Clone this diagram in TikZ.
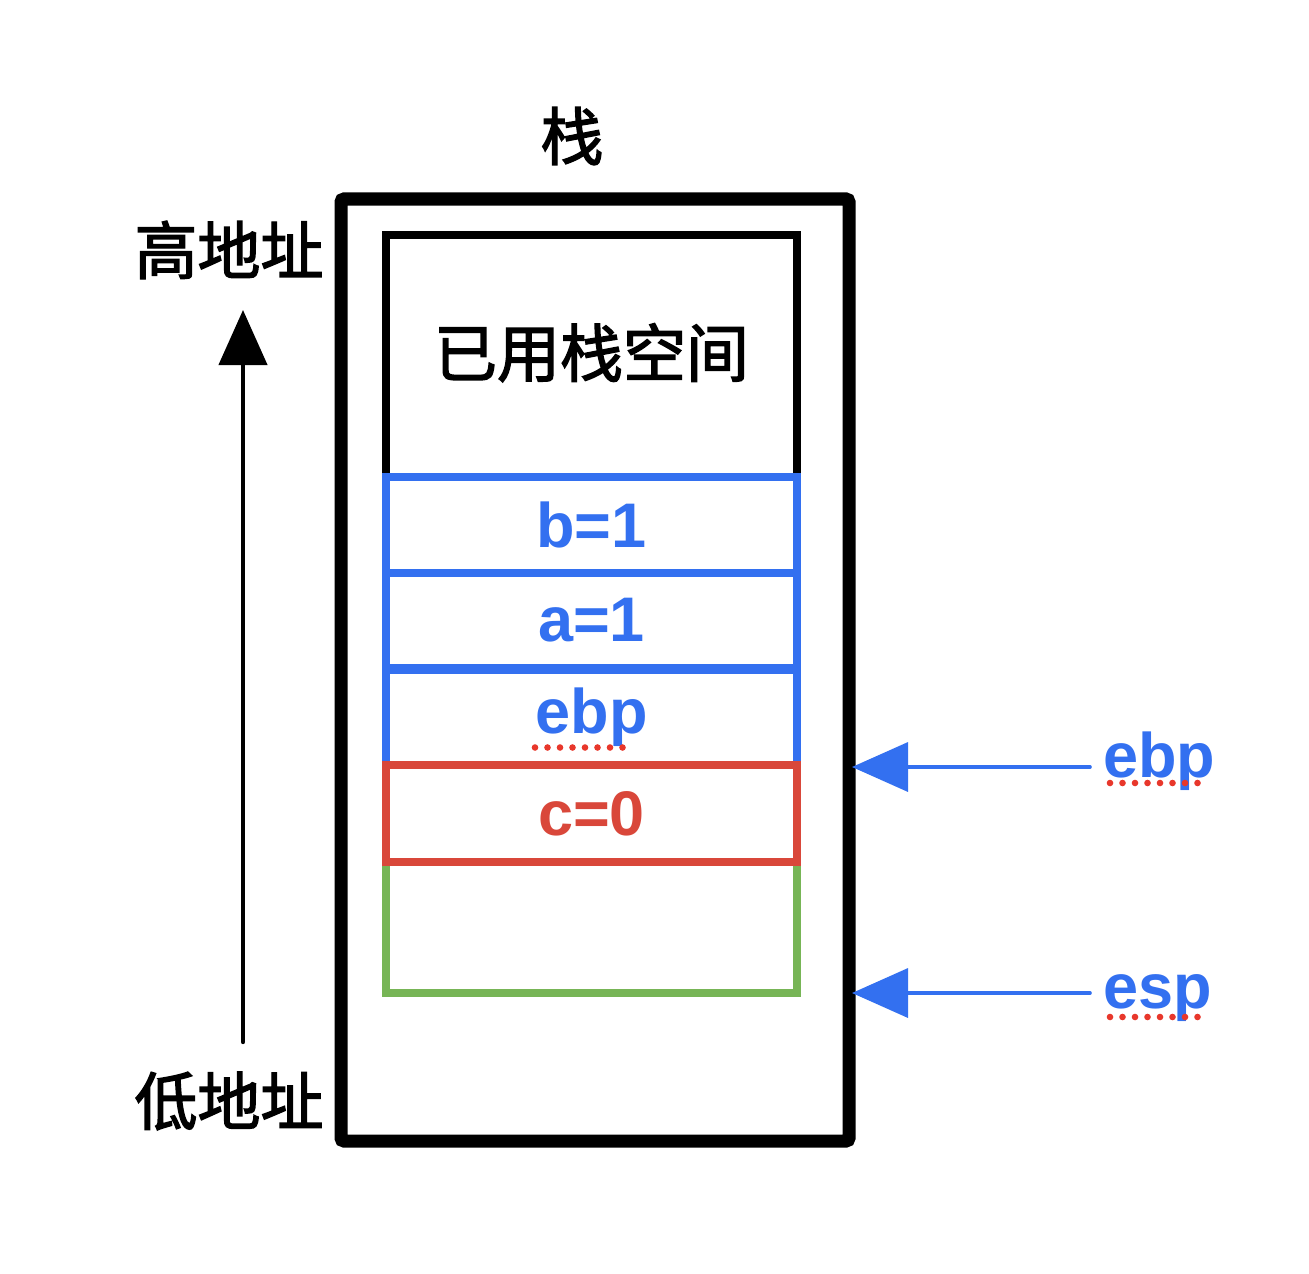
\documentclass[tikz,border=0pt]{standalone}
\usepackage{fontspec}
\setmainfont{Liberation Sans}
\newfontfamily\cjk{Noto Sans CJK SC}[FakeBold=2.2]
\usetikzlibrary{arrows.meta}
\definecolor{regblue}{HTML}{3370F0}
\definecolor{regred}{HTML}{D9473A}
\definecolor{reggreen}{HTML}{77B556}
\definecolor{spellred}{HTML}{E8372B}

\begin{document}
\begin{tikzpicture}[
    x=0.5pt, y=-0.5pt,
    frame/.style={%
      draw,
      line width=6.5pt,
      rounded corners=1.5pt,
      inner sep=0pt,
      outer sep=1.5pt,
      minimum width=254pt,
      minimum height=471pt,
    },
    cell/.style={%
      draw=#1,
      text=#1,
      line width=4.3pt,
      inner sep=0pt,
      minimum width=205.5pt,
      font=\bfseries\fontsize{31.5}{36}\selectfont,
    },
    cjktext/.style={font=\cjk\fontsize{31.5}{36}\selectfont},
    reg/.style={%
      anchor=base west,
      inner sep=0pt,
      text=regblue,
      font=\bfseries\fontsize{31.5}{36}\selectfont,
    },
    ptr/.style={draw=regblue, line width=1.8pt, line cap=round, -{Triangle[length=28pt,width=24.5pt]}},
    addr/.style={line width=2.2pt, line cap=round, -{Triangle[length=27.5pt,width=24pt]}},
    typo/.style={draw=spellred, line width=3.3pt, line cap=round, dash pattern=on 0pt off 6.25pt},
  ]

    \useasboundingbox (0,0) rectangle (1309,1273);

    \node [cjktext] (title) at (572,136) {栈};
    \node [frame] (stack) at (595,670) {};
    \node [cell=black, minimum height=121pt, text depth=6pt, cjktext] (used) at (591.5,356) {已用栈空间};
    \node [cell=reggreen, minimum height=65.5pt] (free) at (591.5,927.5) {};
    \node [cell=regblue, minimum height=47.5pt] (ebp) at (591.5,717.5) {ebp};
    \node [cell=regblue, minimum height=47.5pt] (a) at (591.5,620.5) {a=1};
    \node [cell=regblue, minimum height=48pt] (b) at (591.5,525) {b=1};
    \node [cell=regred, minimum height=48.5pt] (c) at (591.5,813.5) {c=0};

    \node [cjktext] (high) at (229,250) {高地址};
    \node [cjktext] (low) at (229,1101) {低地址};
    \coordinate (lowEnd) at (243,1042);
    \coordinate (highEnd) at (243,310);
    \draw [addr] (lowEnd) -- (highEnd);

    \node [reg] (ebpR) at (1103,777) {ebp};
    \node [reg] (espR) at (1103,1008) {esp};
    \coordinate (ebpTail) at (1090,767);
    \coordinate (espTail) at (1090,993);
    \draw [ptr] (ebpTail) -- (ebpTail -| stack.east);
    \draw [ptr] (espTail) -- (espTail -| stack.east);

    \draw [typo] ([shift={(7,6)}]ebpR.base west) -- ++(88,0);
    \draw [typo] ([shift={(7,9)}]espR.base west) -- ++(88,0);
    \draw [typo] ([shift={(-56.5,30)}]ebp.center) -- ++(92,0);
\end{tikzpicture}
\end{document}
